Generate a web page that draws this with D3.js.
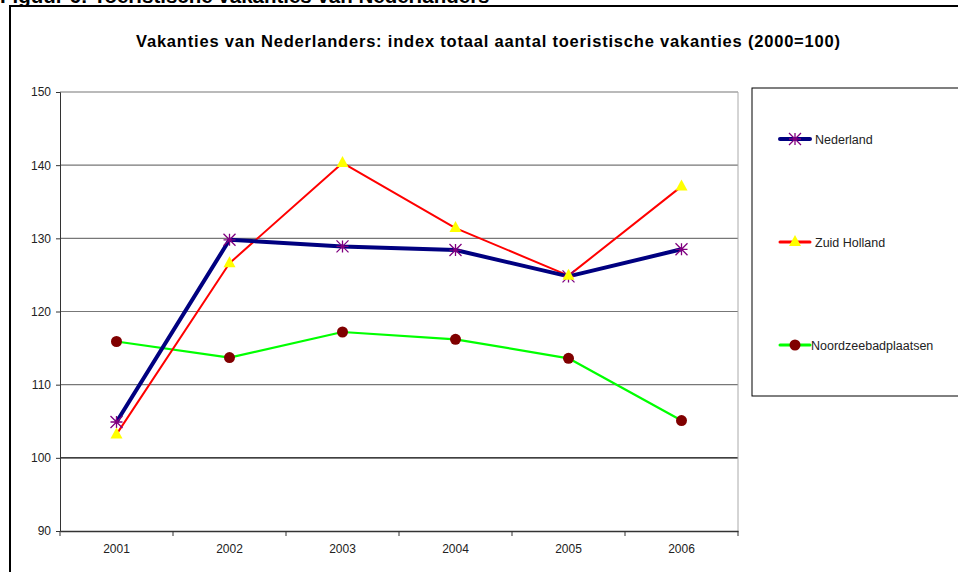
<!DOCTYPE html>
<html>
<head>
<meta charset="utf-8">
<script src="https://cdn.jsdelivr.net/npm/d3@7"></script>
<style>
  body { margin: 0; background: #fff; }
  svg { display: block; font-family: "Liberation Sans", Arial, sans-serif; }
</style>
</head>
<body>
<svg></svg>
<script>
const width = 958;
const height = 572;

// data
const years = ["2001", "2002", "2003", "2004", "2005", "2006"];
const nederland = [104.9, 129.8, 128.9, 128.4, 124.8, 128.5];
const zuidHolland = [103.2, 126.6, 140.3, 131.4, 124.9, 137.1];
const noordzee = [115.9, 113.7, 117.2, 116.2, 113.6, 105.1];
const yTicks = [90, 100, 110, 120, 130, 140, 150];
const seriesNames = ["Nederland", "Zuid Holland", "Noordzeebadplaatsen"];

const plot = { left: 60, right: 738, top: 92, bottom: 531 };

let svg = d3.select("svg")
    .attr("width", width)
    .attr("height", height);

svg.append("rect").attr("width", width).attr("height", height).attr("fill", "#fff");

// heading of the page, cut off at the top (as in the original)
svg.append("text")
    .attr("x", 0)
    .attr("y", 3)
    .attr("font-size", 20.5)
    .attr("font-weight", "bold")
    .text("Figuur 6: Toeristische vakanties van Nederlanders");

// outer frame of the chart
svg.append("rect")
    .attr("x", 10)
    .attr("y", 6)
    .attr("width", 1000)
    .attr("height", 600)
    .attr("fill", "#fff")
    .attr("stroke", "#000")
    .attr("stroke-width", 2);

svg.append("text")
    .attr("x", 488)
    .attr("y", 46.5)
    .attr("text-anchor", "middle")
    .attr("font-size", 16.5)
    .attr("font-weight", "bold")
    .attr("textLength", 704)
    .attr("lengthAdjust", "spacing")
    .text("Vakanties van Nederlanders: index totaal aantal toeristische vakanties (2000=100)");

let scaleX = d3.scaleBand()
    .domain(years)
    .range([plot.left, plot.right]);

let scaleY = d3.scaleLinear()
    .domain([90, 150])
    .range([plot.bottom, plot.top]);

// gridlines
svg.append("g")
    .selectAll("line")
    .data(yTicks.filter(d => d > 90))
    .enter()
    .append("line")
    .attr("x1", plot.left)
    .attr("x2", plot.right)
    .attr("y1", d => scaleY(d))
    .attr("y2", d => scaleY(d))
    .attr("stroke", d => d == 100 ? "#000" : "#777")
    .attr("stroke-width", 1.2);

// right border of plot area
svg.append("line")
    .attr("x1", plot.right).attr("x2", plot.right)
    .attr("y1", plot.top).attr("y2", plot.bottom)
    .attr("stroke", "#aaa")
    .attr("stroke-width", 1);

// axes
let axisY = d3.axisLeft(scaleY).tickValues(yTicks).tickSize(4).tickPadding(5);
let gy = svg.append("g")
    .attr("transform", `translate(${plot.left}, 0)`)
    .call(axisY);
gy.select(".domain").attr("stroke", "#333");
gy.selectAll(".tick line").attr("stroke", "#333");
gy.selectAll("text").attr("font-size", 12).attr("fill", "#222").attr("font-family", "Liberation Sans, Arial");

let gx = svg.append("g")
    .attr("transform", `translate(0, ${plot.bottom})`)
    .call(d3.axisBottom(scaleX).tickSize(0).tickPadding(13));
gx.select(".domain").attr("stroke", "#333").attr("stroke-width", 1.5);
gx.selectAll("text").attr("font-size", 12).attr("fill", "#222").attr("font-family", "Liberation Sans, Arial");

// tick marks between categories
gx.append("g")
    .selectAll("line")
    .data(years.concat(["end"]))
    .enter()
    .append("line")
    .attr("x1", (d, i) => i < years.length ? scaleX(d) : plot.right)
    .attr("x2", (d, i) => i < years.length ? scaleX(d) : plot.right)
    .attr("y1", 0)
    .attr("y2", 5)
    .attr("stroke", "#333");

const cx = d => scaleX(d) + scaleX.bandwidth() / 2;

const series = [
  { name: seriesNames[0], values: nederland, line: "#000080", width: 4, marker: "star", mcolor: "#800080" },
  { name: seriesNames[1], values: zuidHolland, line: "#ff0000", width: 2, marker: "triangle", mcolor: "#ffff00" },
  { name: seriesNames[2], values: noordzee, line: "#00ff00", width: 2.2, marker: "circle", mcolor: "#800000" }
];

function drawMarker(g, type, color) {
  if (type == "star") {
    const s = 6;
    g.append("path")
      .attr("d", `M${-s},0H${s}M0,${-s}V${s}M${-s},${-s}L${s},${s}M${-s},${s}L${s},${-s}`)
      .attr("stroke", color)
      .attr("stroke-width", 1.3)
      .attr("fill", "none");
  } else if (type == "triangle") {
    g.append("path")
      .attr("d", "M0,-7L6,4L-6,4Z")
      .attr("fill", color);
  } else {
    g.append("circle")
      .attr("r", 5.5)
      .attr("fill", color);
  }
}

const line = d3.line()
    .x((d, i) => cx(years[i]))
    .y(d => scaleY(d));

// green first, then red, navy on top
[2, 1, 0].forEach(k => {
  const s = series[k];
  svg.append("path")
    .datum(s.values)
    .attr("fill", "none")
    .attr("stroke", s.line)
    .attr("stroke-width", s.width)
    .attr("stroke-linejoin", "round")
    .attr("d", line);
});

[2, 0, 1].forEach(k => {
  const s = series[k];
  s.values.forEach((v, i) => {
    const g = svg.append("g").attr("transform", `translate(${cx(years[i])}, ${scaleY(v)})`);
    drawMarker(g, s.marker, s.mcolor);
  });
});

// legend
svg.append("rect")
    .attr("x", 752)
    .attr("y", 88)
    .attr("width", 300)
    .attr("height", 308)
    .attr("fill", "#fff")
    .attr("stroke", "#000")
    .attr("stroke-width", 1);

const legendY = [139, 242, 345];
series.forEach((s, i) => {
  const g = svg.append("g").attr("transform", `translate(780, ${legendY[i]})`);
  g.append("line")
    .attr("x1", 0).attr("x2", 30)
    .attr("stroke", s.line)
    .attr("stroke-width", s.width == 4 ? 4 : 3)
    .attr("stroke-linecap", "round");
  const m = g.append("g").attr("transform", "translate(15,0)");
  drawMarker(m, s.marker, s.mcolor);
  g.append("text")
    .attr("x", i == 2 ? 31 : 35)
    .attr("y", 4.5)
    .attr("font-size", 12.5)
    .attr("fill", "#222")
    .text(s.name);
});
</script>
</body>
</html>
